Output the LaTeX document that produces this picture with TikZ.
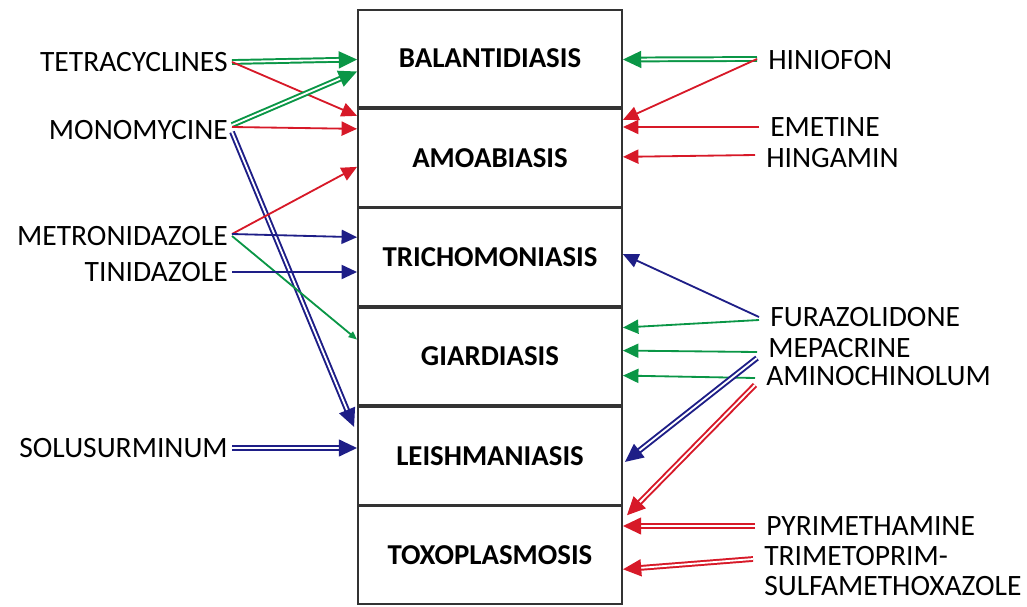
\documentclass[tikz,border=0pt]{standalone}
\usepackage{fontspec}
\setmainfont{Carlito}
\usetikzlibrary{arrows.meta, positioning, calc}
\definecolor{drugred}{RGB}{215,25,40}
\definecolor{druggreen}{RGB}{10,150,70}
\definecolor{drugblue}{RGB}{30,30,135}
\tikzset{
    disease/.style={rectangle, draw=black!80, line width=1.3pt, minimum width=6.6cm, minimum height=2.4375cm, inner sep=0pt, font=\bfseries\fontsize{20.5}{24}\selectfont},
    drugleft/.style={inner ysep=0pt, inner xsep=0.1cm, anchor=east, font=\fontsize{21}{21.5}\selectfont},
    drugright/.style={inner ysep=0pt, inner xsep=0.275cm, anchor=west, font=\fontsize{21}{21.5}\selectfont},
    tight/.style={text height=1.45ex, text depth=0pt},
    single/.style={line width=1.3pt, -{Triangle[length=11pt,width=10pt]}},
    twin/.style={double=white, double distance=1.3pt, line width=1.4pt, -{Triangle[length=13pt,width=12pt]}}
}
\begin{document}
\begin{tikzpicture}[x=0.025cm, y=-0.025cm]
    \useasboundingbox (0,0) rectangle (1027,606);

    % --- DISEASES ---
    \node (bal) [disease] at (490,58.5) {BALANTIDIASIS};
    \node (amo) [disease, below=0pt of bal] {AMOABIASIS};
    \node (tri) [disease, below=0pt of amo] {TRICHOMONIASIS};
    \node (gia) [disease, below=0pt of tri] {GIARDIASIS};
    \node (lei) [disease, below=0pt of gia] {LEISHMANIASIS};
    \node (tox) [disease, below=0pt of lei] {TOXOPLASMOSIS};

    % --- DRUGS (left) ---
    \node (tetra) [drugleft] at (232,62) {TETRACYCLINES};
    \node (mono) [drugleft] at (232,130) {MONOMYCINE};
    \node (metro) [drugleft] at (232,236) {METRONIDAZOLE};
    \node (tini) [drugleft] at (232,272) {TINIDAZOLE};
    \node (solu) [drugleft] at (232,448) {SOLUSURMINUM};

    % --- DRUGS (right) ---
    \node (hinio) [drugright] at (757,60) {HINIOFON};
    \node (emet) [drugright] at (759,127) {EMETINE};
    \node (hinga) [drugright] at (755,158) {HINGAMIN};
    \node (furaz) [drugright] at (759,317) {FURAZOLIDONE};
    \node (mepac) [drugright, tight] at (757,353) {MEPACRINE};
    \node (amino) [drugright, tight] at (755,381) {AMINOCHINOLUM};
    \node (pyri) [drugright] at (755,526) {PYRIMETHAMINE};
    \node (trime) [drugright, anchor=north west, align=left] at (753,546) {TRIMETOPRIM-\\SULFAMETHOXAZOLE};

    % --- ARROWS (left) ---
    \draw [twin, druggreen] (tetra.east) -- ($(bal.west)+(0,1)$);
    \draw [single, drugred] (tetra.east) -- ($(amo.west)+(0,-42)$);
    \draw [twin, druggreen] ($(mono.east)+(0,-5)$) -- ($(bal.west)+(0,13)$);
    \draw [single, drugred] ($(mono.east)+(0,-3)$) -- ($(amo.west)+(0,-29)$);
    \draw [twin, drugblue] ($(mono.east)+(0,2)$) -- ($(lei.west)+(-3,-29)$);
    \draw [single, drugred] ($(metro.east)+(0,-2)$) -- ($(amo.west)+(0,9)$);
    \draw [single, drugblue] ($(metro.east)+(0,-2)$) -- ($(tri.west)+(0,-20)$);
    \draw [line width=1.3pt, druggreen, -{Triangle[length=6pt,width=5pt]}] (metro.east) -- ($(gia.west)+(0,-17)$);
    \draw [single, drugblue] (tini.east) -- (tini.east -| tri.west);
    \draw [twin, drugblue] (solu.east) -- (solu.east -| lei.west);

    % --- ARROWS (right) ---
    \draw [twin, druggreen] ($(hinio.west)+(0,-1)$) -- ($(bal.east)+(0,1)$);
    \draw [single, drugred] ($(hinio.west)+(0,-1)$) -- ($(amo.east)+(0,-38)$);
    \draw [single, drugred] (emet.west) -- (emet.west -| amo.east);
    \draw [single, drugred] ($(hinga.west)+(0,-3)$) -- ($(amo.east)+(0,-1)$);
    \draw [single, drugblue] (furaz.west) -- ($(tri.east)+(0,-3)$);
    \draw [single, druggreen] ($(furaz.west)+(0,3)$) -- ($(gia.east)+(0,-29)$);
    \draw [single, druggreen] ($(mepac.west)+(0,-1)$) -- ($(gia.east)+(0,-6)$);
    \draw [single, druggreen] ($(amino.west)+(0,-3)$) -- ($(gia.east)+(0,19)$);
    \draw [twin, drugblue] ($(mepac.west)+(0,5)$) -- ($(lei.east)+(2,6)$);
    \draw [twin, drugred] ($(amino.west)+(0,4)$) -- ($(tox.east)+(4,-40)$);
    \draw [twin, drugred] (pyri.west) -- (pyri.west -| tox.east);
    \draw [twin, drugred] ($(trime.north west)+(0,13)$) -- ($(tox.east)+(0,14)$);

\end{tikzpicture}
\end{document}
